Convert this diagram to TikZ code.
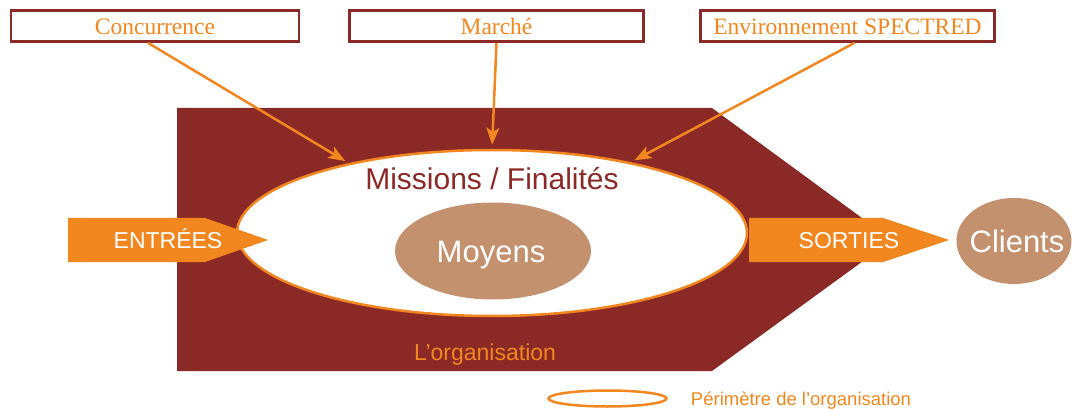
\documentclass[tikz,border=0pt]{standalone}
\usepackage{fontspec}
\setmainfont{Liberation Serif}
\setsansfont{Liberation Sans}
\usetikzlibrary{arrows.meta,shapes.geometric}
\definecolor{bordeaux}{HTML}{8B2927}
\definecolor{orangeS}{HTML}{F2871F}
\definecolor{beige}{HTML}{C4916F}

\begin{document}
\begin{tikzpicture}[x=1pt,y=-1pt,
  boite/.style={draw=bordeaux,line width=2.8pt,fill=white,minimum width=294pt,minimum height=31pt,inner sep=0pt,text height=18pt,text depth=0pt,text=orangeS,font=\fontsize{23.5}{28}\selectfont},
  fleche/.style={draw=orangeS,line width=2.5pt,shorten >=4pt,-{Stealth[length=17pt,width=13pt,inset=4pt]}},
  bloc/.style={fill=orangeS},
  texteB/.style={anchor=base,inner sep=0pt,text=white,font=\sffamily\fontsize{23}{28}\selectfont}]
\useasboundingbox (0,0) rectangle (1080,409);
%L'organisation
\fill[bordeaux] (177,108) -- (712,108) -- (892,240) -- (712,371) -- (177,371) -- cycle;
\node[anchor=base,inner sep=0pt,text=orangeS,font=\sffamily\fontsize{23}{28}\selectfont] (orga) at (485,360) {L’organisation};
%Perimetre
\node[ellipse,draw=orangeS,line width=2.5pt,fill=white,minimum width=510pt,minimum height=166pt,inner sep=0pt] (perim) at (492,233) {};
\node[anchor=base,inner sep=0pt,text=bordeaux,font=\sffamily\fontsize{30}{34}\selectfont] (missions) at (492,190) {Missions / Finalités};
\node[ellipse,fill=beige,minimum width=196pt,minimum height=97pt,inner sep=0pt] (moyensE) at (493,251) {};
\node[texteB,font=\sffamily\fontsize{31}{36}\selectfont] (moyens) at (491,262) {Moyens};
%Entrees et sorties
\fill[bloc] (68,218) -- (205,218) -- (268,240) -- (205,262) -- (68,262) -- cycle;
\node[texteB] (entrees) at (168,248) {ENTRÉES};
\fill[bloc] (749,218) -- (883,218) -- (949,240) -- (883,262) -- (749,262) -- cycle;
\node[texteB] (sorties) at (849,248) {SORTIES};
\node[ellipse,fill=beige,minimum width=115pt,minimum height=86pt,inner sep=0pt] (clientsE) at (1014,241) {};
\node[texteB,font=\sffamily\fontsize{31}{36}\selectfont] (clients) at (1017,252) {Clients};
%Boites du haut
\node[boite,minimum width=288pt] (conc) at (155,26) {Concurrence};
\node[boite] (marche) at (496.5,26) {Marché};
\node[boite] (env) at (847.5,26) {Environnement SPECTRED};
\draw[fleche] ([xshift=-7pt]conc.south) -- (perim.154);
\draw[fleche] (marche.south) -- (perim.north);
\draw[fleche] ([xshift=7pt]env.south) -- (perim.27);
%Legende
\node[ellipse,draw=orangeS,line width=2.5pt,minimum width=118pt,minimum height=16pt,inner sep=0pt] (legE) at (607.5,398.5) {};
\node[anchor=base,inner sep=0pt,text=orangeS,font=\sffamily\fontsize{18.5}{22}\selectfont] (leg) at (801,405) {Périmètre de l’organisation};
\end{tikzpicture}
\end{document}
